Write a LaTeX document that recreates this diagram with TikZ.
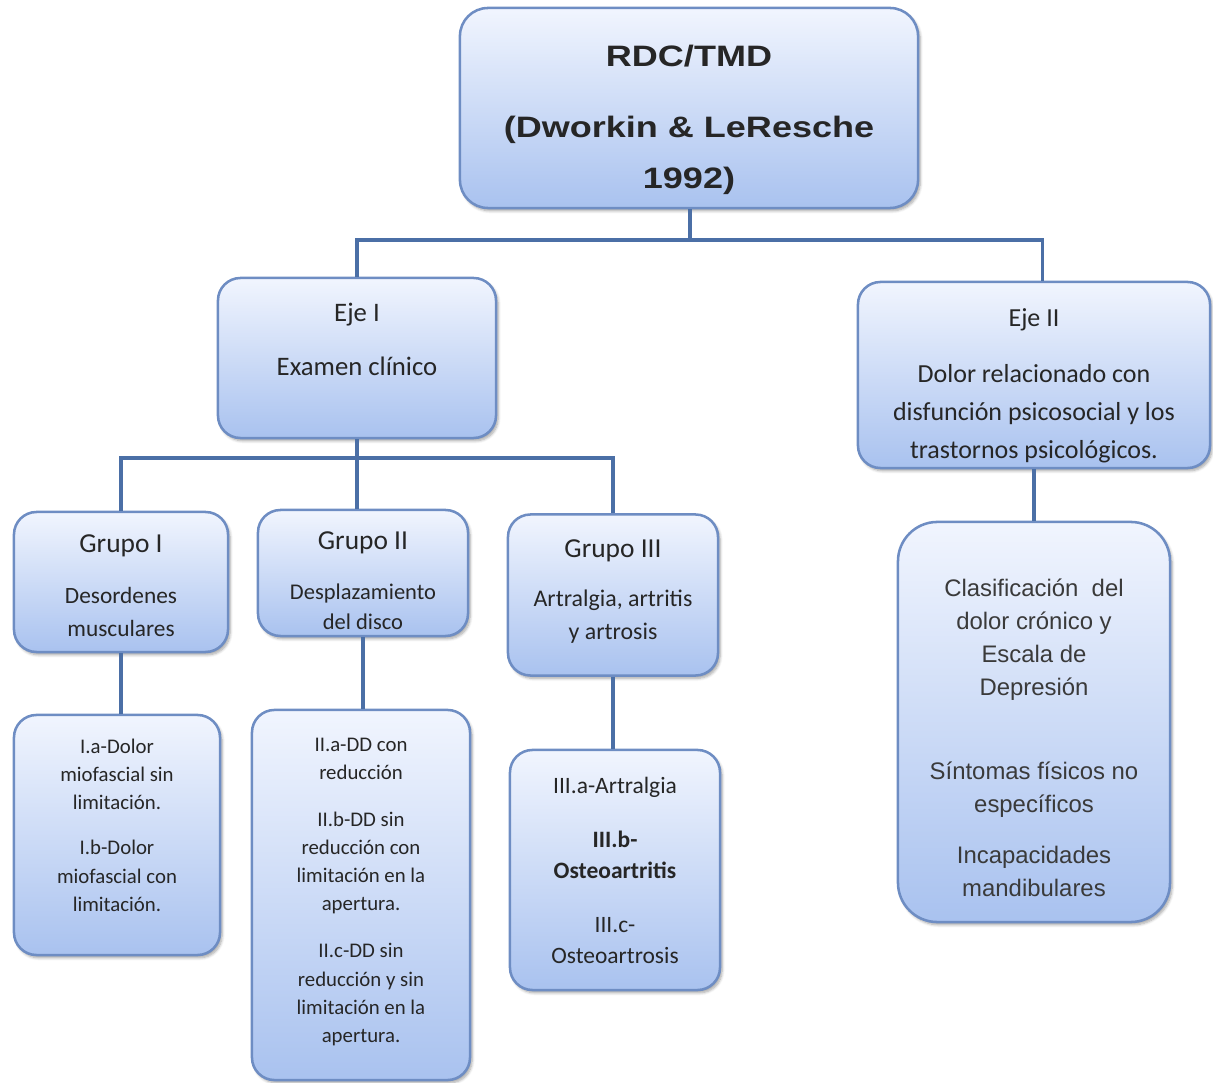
\documentclass[tikz,border=0pt]{standalone}
\usepackage{fontspec}
\setmainfont{Carlito}
\newfontfamily\arialfont{Liberation Sans}
\newfontfamily\titlefont[FakeStretch=1.22]{Liberation Sans}
\usetikzlibrary{shadows.blur}
\definecolor{boxtop}{HTML}{F1F5FE}
\definecolor{boxbottom}{HTML}{A9C2EF}
\definecolor{boxedge}{HTML}{6E8DC3}
\definecolor{linkblue}{HTML}{4B6FA6}
\definecolor{textgray}{HTML}{3A3A3A}
\tikzset{
  box/.style={rectangle, rounded corners=#1, draw=boxedge, line width=1.8pt,
    top color=boxtop, bottom color=boxbottom, align=center, inner sep=0pt,
    text=black!85,
    blur shadow={shadow xshift=1.5pt, shadow yshift=-2pt, shadow blur steps=6, shadow opacity=35}},
  box/.default=16pt,
  link/.style={draw=linkblue, line width=2.7pt},
}
\newcommand\headfont{\fontsize{19.5}{24}\selectfont}
\newcommand\padtop[1]{\rule{0pt}{#1}}      % pushes the text down
\newcommand\padbottom[1]{\rule[-#1]{0pt}{0pt}} % pushes the text up

\begin{document}
\begin{tikzpicture}[x=0.025cm,y=-0.025cm] % one unit = one pixel of the reference

\useasboundingbox (0,0) rectangle (1213,1083);

% top level
\node[box=20pt, minimum width=11.45cm, minimum height=5cm,
  font=\titlefont\bfseries\fontsize{21}{35.6}\selectfont] (root) at (689,108)
  {\padtop{32pt}RDC/TMD\\[15pt](Dworkin \& LeResche\\1992)};

% the two axes
\node[box, minimum width=6.95cm, minimum height=4cm,
  font=\fontsize{19}{24}\selectfont] (eje1) at (357,358)
  {Eje I\\[14pt]Examen clínico\padbottom{26.5pt}};
\node[box, minimum width=8.8cm, minimum height=4.65cm,
  font=\fontsize{18.5}{27}\selectfont] (eje2) at (1034,375)
  {\padtop{28pt}Eje II\\[13.5pt]Dolor relacionado con\\disfunción psicosocial y los\\trastornos psicológicos.};

% groups of axis I
\node[box, minimum width=5.35cm, minimum height=3.5cm,
  font=\fontsize{16.6}{23.5}\selectfont] (g1) at (121,582)
  {\padtop{18.5pt}{\headfont Grupo I}\\[12.8pt]Desordenes\\musculares};
\node[box, minimum width=5.25cm, minimum height=3.15cm,
  font=\fontsize{16}{21.3}\selectfont] (g2) at (363,573)
  {\padtop{24pt}{\headfont Grupo II}\\[14.2pt]Desplazamiento\\del disco};
\node[box, minimum width=5.25cm, minimum height=4.025cm,
  font=\fontsize{17}{23.5}\selectfont] (g3) at (613,595)
  {{\headfont Grupo III}\\[11.4pt]Artralgia, artritis\\y artrosis\padbottom{7.8pt}};

% diagnoses
\node[box, minimum width=5.15cm, minimum height=6cm,
  font=\fontsize{14.8}{20}\selectfont] (s1) at (117,835)
  {I.a-Dolor\\miofascial sin\\limitación.\\[12pt]I.b-Dolor\\miofascial con\\limitación.\padbottom{14pt}};
\node[box, minimum width=5.45cm, minimum height=9.25cm,
  font=\fontsize{14.8}{20}\selectfont] (s2) at (361,895)
  {II.a-DD con\\reducción\\[13.5pt]II.b-DD sin\\reducción con\\limitación en la\\apertura.\\[13.5pt]II.c-DD sin\\reducción y sin\\limitación en la\\apertura.\padbottom{7pt}};
\node[box, minimum width=5.25cm, minimum height=6cm,
  font=\fontsize{16.7}{22}\selectfont] (s3) at (615,870)
  {III.a-Artralgia\\[16.4pt]\textbf{III.b-}\\\textbf{Osteoartritis}\\[16.4pt]III.c-\\Osteoartrosis};
\node[box=28pt, minimum width=6.8cm, minimum height=10cm,
  font=\arialfont\fontsize{17}{23.5}\selectfont, text=textgray] (s4) at (1034,722)
  {\padtop{35.5pt}Clasificación\ \ del\\dolor crónico y\\Escala de\\Depresión\\[36pt]Síntomas físicos no\\específicos\\[13pt]Incapacidades\\mandibulares};

% connectors
\coordinate (bus1) at (690,240);
\coordinate (bus2) at (357,458);
\draw[link] (root.south -| bus1) -- (bus1);
\draw[link] (eje1.north) |- (bus1) -| ([xshift=6pt]eje2.north);
\draw[link] (eje1.south) -- (bus2);
\draw[link] (g1.north) |- (bus2) -| (g3.north);
\draw[link] (bus2) -- (g2.north -| bus2);
\foreach \g in {1,2,3} \draw[link] (g\g.south) -- (g\g.south |- s\g.north);
\draw[link] (eje2.south) -- (s4.north);

\end{tikzpicture}
\end{document}
